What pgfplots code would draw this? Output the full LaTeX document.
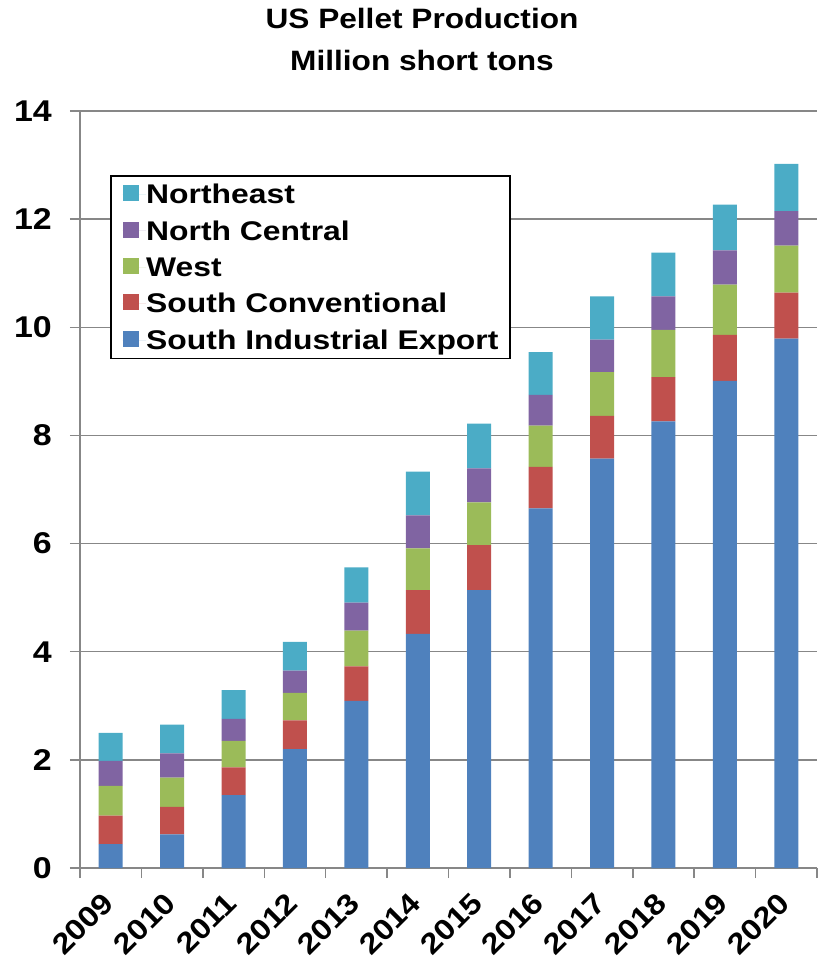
\documentclass[border=0pt]{standalone}
\usepackage{fontspec}
\setmainfont{Liberation Sans}[FakeStretch=1.13]
\newfontfamily\legfont{Liberation Sans}[FakeStretch=1.18]
\usepackage{pgfplots}
\pgfplotsset{compat=1.18}
\definecolor{cBlue}{HTML}{4F81BD}
\definecolor{cRed}{HTML}{C0504D}
\definecolor{cGreen}{HTML}{9BBB59}
\definecolor{cPurple}{HTML}{8064A2}
\definecolor{cCyan}{HTML}{4BACC6}
\definecolor{axgray}{HTML}{878787}
\begin{document}
\begin{tikzpicture}
\useasboundingbox (-80pt,-90pt) rectangle (743pt,868pt);
\begin{axis}[
  at={(0pt,0pt)}, anchor=south west,
  scale only axis, width=737pt, height=757pt,
  ybar stacked, bar width=24pt,
  xmin=-0.5, xmax=11.5, ymin=0, ymax=14,
  xtick={-0.5,0.5,1.5,2.5,3.5,4.5,5.5,6.5,7.5,8.5,9.5,10.5,11.5},
  x tick label as interval,
  xticklabels={2009,2010,2011,2012,2013,2014,2015,2016,2017,2018,2019,2020},
  ytick={0,2,4,6,8,10,12,14},
  axis lines*=left,
  axis line style={draw=axgray, line width=1.5pt},
  tick style={draw=axgray, line width=1.5pt},
  tick align=outside, major tick length=10pt,
  ymajorgrids, grid style={draw=axgray, line width=1.5pt},
  /pgf/number format/assume math mode=true,
  yticklabel style={font=\fontsize{30}{30}\selectfont\bfseries, anchor=east, inner sep=0pt, xshift=-18pt},
  xticklabel style={font=\fontsize{29}{29}\selectfont\bfseries, yshift=-20pt, xshift=-2pt, rotate=45, anchor=east, inner sep=0pt},
  legend cell align=left,
  reverse legend,
  legend image code/.code={\fill[#1] (0pt,-6.65pt) rectangle (16pt,9.35pt); \path (0pt,0pt) -- (23.7pt,0pt);},
  legend style={at={(0.0421,0.9141)}, anchor=north west, draw=black, line width=1.5pt, fill=white,
    outer sep=0pt, inner xsep=11.5pt, inner ysep=6.2pt, row sep=11.9pt,
    font=\legfont\fontsize{27}{27}\selectfont\bfseries,
    nodes={inner sep=0pt, text height=21.5pt, text depth=3pt}},
]
\addplot[fill=cBlue, draw=none] coordinates {(0,0.44) (1,0.62) (2,1.35) (3,2.20) (4,3.09) (5,4.33) (6,5.14) (7,6.65) (8,7.57) (9,8.26) (10,9.01) (11,9.79)};
\addplot[fill=cRed, draw=none] coordinates {(0,0.53) (1,0.51) (2,0.51) (3,0.53) (4,0.64) (5,0.81) (6,0.83) (7,0.77) (8,0.79) (9,0.82) (10,0.85) (11,0.85)};
\addplot[fill=cGreen, draw=none] coordinates {(0,0.55) (1,0.54) (2,0.49) (3,0.51) (4,0.66) (5,0.77) (6,0.79) (7,0.76) (8,0.81) (9,0.87) (10,0.93) (11,0.87)};
\addplot[fill=cPurple, draw=none] coordinates {(0,0.46) (1,0.45) (2,0.41) (3,0.41) (4,0.52) (5,0.61) (6,0.63) (7,0.57) (8,0.60) (9,0.62) (10,0.63) (11,0.64)};
\addplot[fill=cCyan, draw=none] coordinates {(0,0.52) (1,0.53) (2,0.53) (3,0.53) (4,0.65) (5,0.81) (6,0.83) (7,0.79) (8,0.80) (9,0.81) (10,0.85) (11,0.87)};
\legend{South Industrial Export, South Conventional, West, North Central, Northeast}
\end{axis}
\node[font=\fontsize{28}{28}\selectfont\bfseries, anchor=base] at (342pt,839pt) {US Pellet Production};
\node[font=\fontsize{28}{28}\selectfont\bfseries, anchor=base] at (342pt,797pt) {Million short tons};
\end{tikzpicture}
\end{document}
